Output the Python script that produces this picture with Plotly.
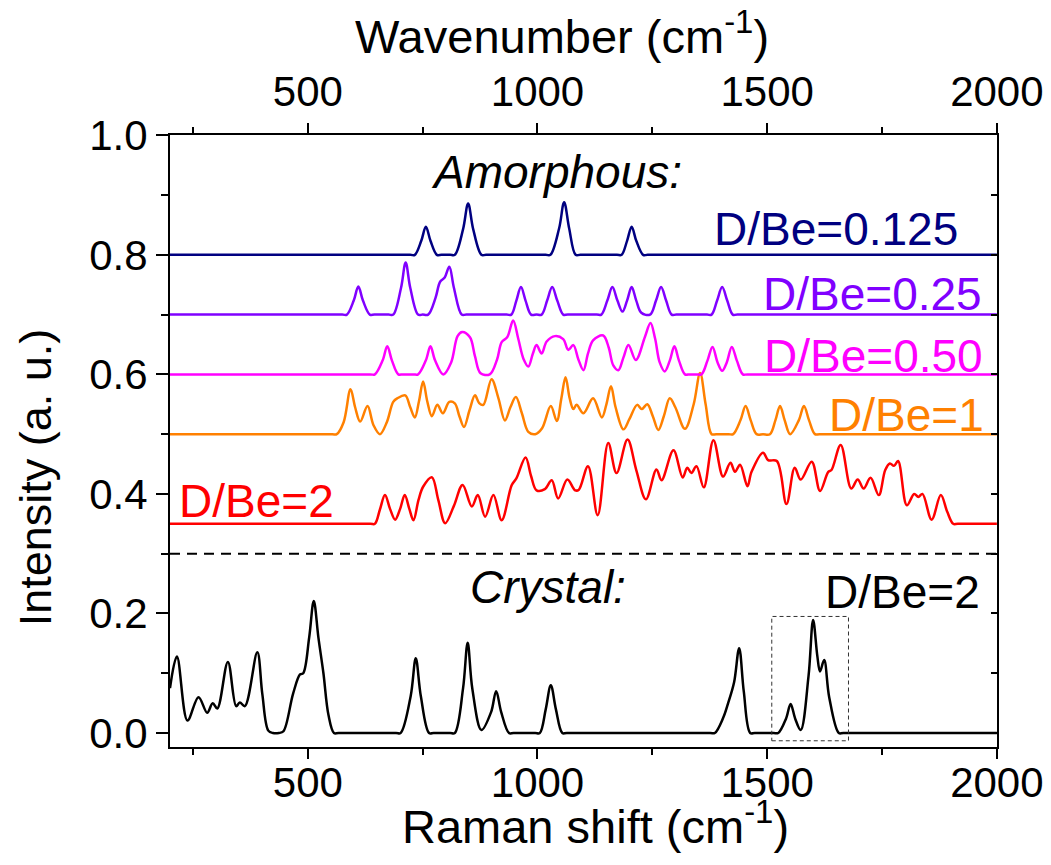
import plotly.graph_objects as go

# ---- Raman spectra as (shift in cm^-1, intensity incl. vertical offset) ----
crystal = [(200, 0.075), (215, 0.128), (238, 0.021), (262, 0.060), (281, 0.034), (293, 0.050),
           (303, 0.041), (326, 0.119), (344, 0.045), (352, 0.051), (363, 0.045), (390, 0.135),
           (401, 0.065), (414, 0.004), (424, 0.0), (437, 0.0), (447, 0.003), (468, 0.066),
           (483, 0.098), (490, 0.100), (503, 0.160), (513, 0.221), (523, 0.160), (534, 0.100),
           (545, 0.030), (557, 0.0), (567, 0.0), (692, 0.0), (702, 0.0), (724, 0.062),
           (735, 0.125), (746, 0.062), (764, 0.0), (774, 0.0), (810, 0.0), (820, 0.0),
           (838, 0.075), (848, 0.151), (858, 0.075), (878, 0.005), (899, 0.035), (910, 0.070),
           (921, 0.035), (938, 0.0), (948, 0.0), (995, 0.0), (1005, 0.0), (1018, 0.040),
           (1029, 0.080), (1040, 0.040), (1054, 0.0), (1064, 0.0), (1376, 0.0), (1386, 0.0),
           (1404, 0.025), (1415, 0.050), (1428, 0.085), (1439, 0.142), (1449, 0.070),
           (1463, 0.0), (1473, 0.0), (1514, 0.0), (1524, 0.0), (1541, 0.024), (1551, 0.0485),
           (1561, 0.024), (1573, 0.005), (1590, 0.095), (1600, 0.189), (1609, 0.130),
           (1615, 0.103), (1624, 0.122), (1635, 0.060), (1656, 0.0), (1666, 0.0),
           (1990, 0.0), (2000, 0.0)]

amor_0125 = [(200, 0.8), (210, 0.8), (723, 0.8), (733, 0.8), (747, 0.8235), (757, 0.847),
             (767, 0.8235), (781, 0.8), (791, 0.8), (810, 0.8), (820, 0.8), (838, 0.843),
             (849, 0.886), (860, 0.843), (878, 0.8), (888, 0.8), (1018, 0.8), (1028, 0.8),
             (1047, 0.844), (1058, 0.888), (1069, 0.844), (1083, 0.8), (1093, 0.8), (1173, 0.8),
             (1183, 0.8), (1195, 0.8235), (1205, 0.847), (1215, 0.8235), (1230, 0.8), (1240, 0.8),
             (1990, 0.8), (2000, 0.8)]

amor_025 = [(200, 0.7), (210, 0.7), (575, 0.7), (585, 0.7), (600, 0.7235), (610, 0.747),
            (620, 0.7235), (635, 0.7), (645, 0.7), (676, 0.7), (686, 0.7), (703, 0.745),
            (713, 0.787), (723, 0.745), (740, 0.7), (750, 0.7), (762, 0.7), (778, 0.728),
            (788, 0.755), (798, 0.762), (808, 0.780), (818, 0.745), (835, 0.7), (845, 0.7),
            (933, 0.7), (943, 0.7), (954, 0.7235), (964, 0.746), (974, 0.7235), (986, 0.7),
            (998, 0.7), (1009, 0.7), (1021, 0.7235), (1032, 0.746), (1043, 0.7235), (1056, 0.7),
            (1066, 0.7), (1129, 0.7), (1139, 0.7), (1152, 0.7235), (1163, 0.746), (1174, 0.7235),
            (1185, 0.705), (1195, 0.7235), (1205, 0.746), (1215, 0.7235), (1226, 0.703),
            (1245, 0.7), (1258, 0.7235), (1269, 0.746), (1280, 0.7235), (1292, 0.7), (1302, 0.7),
            (1369, 0.7), (1379, 0.7), (1391, 0.7235), (1402, 0.746), (1413, 0.7235), (1425, 0.7),
            (1435, 0.7), (1990, 0.7), (2000, 0.7)]

amor_050 = [(200, 0.6), (210, 0.6), (636, 0.6), (646, 0.6), (663, 0.6235), (673, 0.647),
            (683, 0.6235), (697, 0.6), (707, 0.6), (730, 0.6), (740, 0.6), (757, 0.6235),
            (767, 0.647), (777, 0.6235), (795, 0.6), (812, 0.62), (826, 0.664), (836, 0.671),
            (853, 0.662), (864, 0.63), (876, 0.602), (896, 0.6), (912, 0.625), (922, 0.654),
            (934, 0.662), (947, 0.690), (958, 0.66), (970, 0.625), (980, 0.613), (990, 0.635),
            (998, 0.649), (1009, 0.635), (1020, 0.655), (1038, 0.664), (1056, 0.659),
            (1067, 0.641), (1078, 0.649), (1089, 0.625), (1100, 0.607), (1110, 0.635),
            (1121, 0.657), (1143, 0.665), (1155, 0.645), (1165, 0.615), (1176, 0.607),
            (1187, 0.628), (1198, 0.649), (1214, 0.624), (1234, 0.663), (1246, 0.686),
            (1256, 0.66), (1266, 0.62), (1277, 0.605), (1288, 0.623), (1298, 0.647),
            (1308, 0.623), (1321, 0.6), (1331, 0.6), (1347, 0.6), (1357, 0.6), (1370, 0.623),
            (1381, 0.646), (1392, 0.62), (1402, 0.606), (1412, 0.62), (1423, 0.646),
            (1434, 0.623), (1447, 0.6), (1457, 0.6), (1990, 0.6), (2000, 0.6)]

amor_1 = [(200, 0.5), (210, 0.5), (553, 0.5), (563, 0.5), (578, 0.52), (593, 0.575), (603, 0.545),
          (614, 0.521), (630, 0.547), (643, 0.515), (657, 0.5), (672, 0.52), (686, 0.554),
          (695, 0.560), (712, 0.565), (723, 0.545), (733, 0.528), (742, 0.555), (751, 0.588),
          (760, 0.555), (770, 0.530), (782, 0.549), (794, 0.535), (808, 0.554), (820, 0.5515),
          (830, 0.53), (840, 0.512), (852, 0.54), (864, 0.565), (873, 0.552), (882, 0.549),
          (900, 0.592), (915, 0.56), (929, 0.523), (941, 0.545), (953, 0.562), (966, 0.535),
          (980, 0.504), (995, 0.5), (1010, 0.51), (1029, 0.547), (1042, 0.522), (1052, 0.56),
          (1061, 0.595), (1070, 0.56), (1078, 0.542), (1085, 0.549), (1100, 0.535), (1121, 0.560),
          (1140, 0.528), (1150, 0.55), (1160, 0.580), (1170, 0.545), (1187, 0.508), (1200, 0.525),
          (1217, 0.549), (1227, 0.542), (1239, 0.550), (1251, 0.53), (1263, 0.507), (1275, 0.53),
          (1288, 0.560), (1300, 0.545), (1321, 0.509), (1340, 0.55), (1354, 0.6025), (1366, 0.55),
          (1379, 0.5), (1389, 0.5), (1416, 0.5), (1426, 0.5), (1442, 0.5235), (1453, 0.547),
          (1464, 0.5235), (1477, 0.5), (1491, 0.5), (1506, 0.5), (1518, 0.5235), (1528, 0.547),
          (1538, 0.5235), (1550, 0.5), (1569, 0.5235), (1580, 0.547), (1591, 0.5235), (1604, 0.5),
          (1614, 0.5), (1990, 0.5), (2000, 0.5)]

amor_2 = [(200, 0.35), (210, 0.35), (636, 0.35), (646, 0.35), (657, 0.374), (668, 0.398),
          (679, 0.375), (690, 0.357), (701, 0.375), (711, 0.398), (721, 0.375), (730, 0.356),
          (741, 0.39), (751, 0.412), (770, 0.428), (784, 0.39), (799, 0.351), (818, 0.38),
          (837, 0.415), (857, 0.379), (870, 0.398), (886, 0.362), (904, 0.398), (922, 0.356),
          (944, 0.415), (954, 0.426), (974, 0.461), (986, 0.43), (998, 0.406), (1016, 0.408),
          (1031, 0.423), (1045, 0.3925), (1065, 0.424), (1082, 0.406), (1090, 0.407),
          (1110, 0.4465), (1131, 0.3645), (1154, 0.485), (1172, 0.435), (1196, 0.491),
          (1215, 0.44), (1236, 0.391), (1259, 0.441), (1270, 0.423), (1296, 0.473),
          (1316, 0.4275), (1326, 0.444), (1335, 0.435), (1346, 0.4465), (1362, 0.411),
          (1383, 0.49), (1404, 0.429), (1420, 0.452), (1430, 0.437), (1441, 0.449), (1457, 0.413),
          (1466, 0.437), (1491, 0.469), (1502, 0.4565), (1521, 0.455), (1542, 0.383), (1560, 0.444),
          (1573, 0.424), (1597, 0.454), (1615, 0.405), (1633, 0.437), (1640, 0.44), (1660, 0.482),
          (1683, 0.409), (1697, 0.424), (1710, 0.409), (1725, 0.427), (1743, 0.398), (1757, 0.44),
          (1767, 0.451), (1776, 0.447), (1785, 0.455), (1804, 0.381), (1820, 0.400), (1829, 0.395),
          (1838, 0.400), (1858, 0.357), (1878, 0.398), (1892, 0.37), (1905, 0.35), (1915, 0.35),
          (1990, 0.35), (2000, 0.35)]

series = [
    (crystal, "#000000"),
    (amor_2, "#ff0000"),
    (amor_1, "#ff8000"),
    (amor_050, "#ff00ff"),
    (amor_025, "#8000ff"),
    (amor_0125, "#000080"),
]

# ---- in-plot labels ----
label_text = ["Amorphous:", "D/Be=0.125", "D/Be=0.25", "D/Be=0.50", "D/Be=1", "D/Be=2", "Crystal:", "D/Be=2"]
label_x = [1041, 1920, 1972, 1974, 1976, 215, 1023, 1967]
label_y = [0.939, 0.844, 0.735, 0.631, 0.532, 0.389, 0.245, 0.2366]
label_color = ["#000000", "#000080", "#8000ff", "#ff00ff", "#ff8000", "#ff0000", "#000000", "#000000"]
label_anchor = ["center", "right", "right", "right", "right", "left", "center", "right"]
label_italic = [True, False, False, False, False, False, True, False]

# ---- axis titles (paper coordinates) ----
title_text = ["Wavenumber (cm<sup>-1</sup>)", "Raman shift (cm<sup>-1</sup>)", "Intensity (a. u.)"]
title_x = [0.474, 0.515, -0.163]
title_y = [1.167, -0.124, 0.441]
title_angle = [0, 0, -90]

x_ticks = [500, 1000, 1500, 2000]
y_ticks = [0.0, 0.2, 0.4, 0.6, 0.8, 1.0]

separator_y = 0.3
inset_box = (1510, 1677, -0.013, 0.195)

x_range = [200, 2000.3]
y_range = [-0.0234, 1.0005]

FONT = "Arial, 'Liberation Sans', sans-serif"

fig = go.Figure()
for pts, col in series:
    xs = [p[0] for p in pts]
    ys = [p[1] for p in pts]
    fig.add_trace(go.Scatter(x=xs, y=ys, mode="lines",
                             line=dict(color=col, width=2.5, shape="spline", smoothing=1),
                             showlegend=False, hoverinfo="skip"))

# invisible traces so the mirrored top / right axes are drawn
fig.add_trace(go.Scatter(x=x_range, y=y_range, xaxis="x2", yaxis="y", mode="lines",
                         line=dict(width=0), showlegend=False, hoverinfo="skip"))
fig.add_trace(go.Scatter(x=x_range, y=y_range, xaxis="x", yaxis="y2", mode="lines",
                         line=dict(width=0), showlegend=False, hoverinfo="skip"))

for t, x, y, c, a, it in zip(label_text, label_x, label_y, label_color, label_anchor, label_italic):
    fig.add_annotation(x=x, y=y, xref="x", yref="y", text=f"<i>{t}</i>" if it else t,
                       showarrow=False, xanchor=a, yanchor="middle",
                       font=dict(family=FONT, size=46, color=c))

for t, x, y, ang in zip(title_text, title_x, title_y, title_angle):
    fig.add_annotation(x=x, y=y, xref="paper", yref="paper", text=t, textangle=ang,
                       showarrow=False, xanchor="center", yanchor="middle",
                       font=dict(family=FONT, size=47 if ang == 0 else 45, color="black"))

fig.add_shape(type="line", xref="x", yref="y", x0=x_range[0], x1=x_range[1],
              y0=separator_y, y1=separator_y, line=dict(color="black", width=2, dash="10px,7px"))
fig.add_shape(type="rect", xref="x", yref="y", x0=inset_box[0], x1=inset_box[1],
              y0=inset_box[2], y1=inset_box[3], line=dict(color="#333333", width=1, dash="4px,3px"))

axis_common = dict(showline=True, linecolor="black", linewidth=2, showgrid=False, zeroline=False,
                   ticks="outside", tickcolor="black", tickwidth=2, automargin=False)
x_minor = dict(dtick=250, tick0=0, ticklen=6, tickwidth=2, tickcolor="black", ticks="outside")

fig.update_layout(
    width=1051, height=865,
    margin=dict(l=170, r=54, t=135, b=118),
    paper_bgcolor="white", plot_bgcolor="white",
    xaxis=dict(**axis_common, range=x_range, tickmode="array", tickvals=x_ticks, ticklen=10,
               ticklabelstandoff=-12,
               minor=x_minor, tickfont=dict(family=FONT, size=42, color="black")),
    xaxis2=dict(**axis_common, range=x_range, overlaying="x", side="top", anchor="y",
                tickmode="array", tickvals=x_ticks, ticklen=10, minor=x_minor,
                tickfont=dict(family=FONT, size=42, color="black")),
    yaxis=dict(**axis_common, range=y_range, tickmode="array", tickvals=y_ticks,
               tickformat=".1f", ticklen=12,
               minor=dict(dtick=0.1, tick0=0, ticklen=7, tickwidth=2, tickcolor="black", ticks="outside"),
               tickfont=dict(family=FONT, size=42, color="black")),
    yaxis2=dict(showline=True, linecolor="black", linewidth=2, showgrid=False, zeroline=False,
                range=y_range, overlaying="y", side="right", anchor="x", automargin=False,
                ticks="inside", tick0=0, dtick=0.1, ticklen=6, tickwidth=2, tickcolor="black",
                showticklabels=False),
)

fig.write_html("out.html")
